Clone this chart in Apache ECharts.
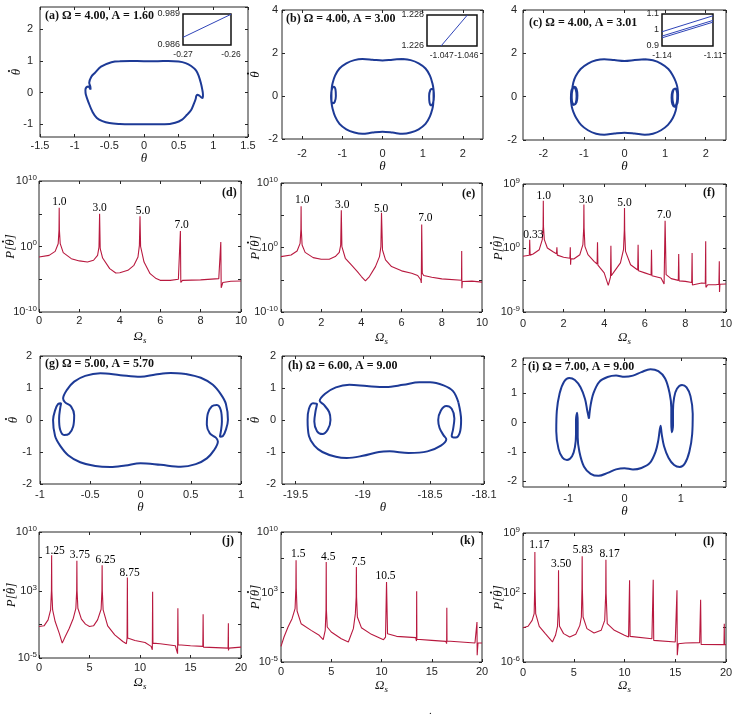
<!DOCTYPE html>
<html style="height: 100%">
<head>
<meta charset="utf-8">
</head>
<body style="height: 100%; margin: 0; background: #fff">
<div id="container" style="width: 737px; height: 717px"></div>
<script type="text/javascript" src="https://cdn.jsdelivr.net/npm/echarts@6.0.0/dist/echarts.min.js"></script>
<script type="text/javascript">
var dom = document.getElementById("container");
var myChart = echarts.init(dom);

// ---- phase portraits [theta, theta_dot] ----
var portraitA = [
  [-0.35,0.99],[-0.2,1.0],[0,0.99],[0.2,0.99],[0.35,1.0],[0.5,0.98],[0.6,0.93],[0.68,0.84],[0.75,0.7],
  [0.79,0.52],[0.82,0.3],[0.84,0.1],[0.85,-0.05],[0.85,-0.12],[0.84,-0.17],[0.8,-0.1],[0.77,-0.07],
  [0.755,-0.1],[0.745,-0.2],[0.72,-0.35],[0.68,-0.55],[0.62,-0.7],[0.55,-0.85],[0.45,-0.95],[0.3,-1.0],
  [0.15,-1.0],[0,-1.0],[-0.2,-1.0],[-0.35,-0.99],[-0.5,-0.96],[-0.6,-0.9],[-0.68,-0.8],[-0.74,-0.62],
  [-0.8,-0.31],[-0.84,-0.05],[-0.845,0.08],[-0.83,0.17],[-0.8,0.19],[-0.78,0.13],[-0.77,0.1],
  [-0.775,0.2],[-0.79,0.31],[-0.76,0.5],[-0.71,0.62],[-0.62,0.82],[-0.47,0.96],[-0.35,0.99]
];
var portraitB = [
  [0.5,1.72],[0.25,1.69],[0,1.65],[-0.25,1.69],[-0.5,1.72],[-0.7,1.67],[-0.9,1.52],[-1.07,1.28],
  [-1.18,0.95],[-1.24,0.6],[-1.26,0.4],[-1.27,0.1],[-1.27,-0.2],[-1.24,-0.34],[-1.19,-0.28],[-1.16,0.0],
  [-1.17,0.3],[-1.21,0.43],[-1.26,0.3],[-1.28,0.0],[-1.27,-0.3],[-1.24,-0.6],[-1.18,-0.95],[-1.07,-1.3],
  [-0.9,-1.55],[-0.7,-1.7],[-0.5,-1.76],[-0.25,-1.7],[0,-1.66],[0.25,-1.7],[0.5,-1.76],[0.7,-1.7],
  [0.9,-1.55],[1.07,-1.3],[1.18,-0.95],[1.24,-0.6],[1.26,-0.4],[1.27,-0.1],[1.27,0.2],[1.24,0.34],
  [1.19,0.28],[1.16,0.0],[1.17,-0.3],[1.21,-0.43],[1.26,-0.3],[1.28,0.0],[1.27,0.3],[1.24,0.6],
  [1.18,0.95],[1.07,1.28],[0.9,1.52],[0.7,1.67],[0.5,1.72]
];
var portraitC = [
  [0.5,1.73],[0.25,1.69],[0,1.65],[-0.25,1.69],[-0.5,1.73],[-0.7,1.68],[-0.9,1.53],[-1.08,1.28],
  [-1.2,0.95],[-1.26,0.65],[-1.29,0.3],[-1.3,-0.05],[-1.28,-0.3],[-1.24,-0.36],[-1.18,-0.25],[-1.16,0.05],
  [-1.18,0.35],[-1.23,0.46],[-1.28,0.33],[-1.3,0.0],[-1.29,-0.3],[-1.25,-0.38],[-1.2,-0.28],[-1.18,0.02],
  [-1.2,0.32],[-1.25,0.44],[-1.31,0.25],[-1.32,-0.1],[-1.3,-0.45],[-1.26,-0.7],[-1.19,-0.98],[-1.07,-1.3],
  [-0.9,-1.55],[-0.7,-1.71],[-0.5,-1.76],[-0.25,-1.7],[0,-1.66],[0.25,-1.7],[0.5,-1.76],[0.7,-1.71],
  [0.9,-1.55],[1.07,-1.3],[1.19,-0.98],[1.26,-0.65],[1.29,-0.3],[1.3,0.05],[1.28,0.3],[1.24,0.36],
  [1.18,0.25],[1.16,-0.05],[1.18,-0.35],[1.23,-0.46],[1.28,-0.33],[1.3,0.0],[1.29,0.3],[1.25,0.38],
  [1.2,0.28],[1.18,-0.02],[1.2,-0.32],[1.25,-0.44],[1.31,-0.25],[1.32,0.1],[1.3,0.45],[1.26,0.7],
  [1.19,0.98],[1.08,1.28],[0.9,1.53],[0.7,1.68],[0.5,1.73]
];
var portraitG = [
  [0.45,1.44],[0.3,1.47],[0.15,1.42],[0,1.35],[-0.2,1.4],[-0.4,1.46],[-0.55,1.38],[-0.66,1.2],
  [-0.73,0.95],[-0.77,0.67],[-0.75,0.55],[-0.69,0.42],[-0.66,0.15],[-0.67,-0.2],[-0.71,-0.43],
  [-0.76,-0.47],[-0.8,-0.3],[-0.81,0.05],[-0.8,0.35],[-0.79,0.52],[-0.82,0.5],[-0.85,0.3],[-0.87,0.0],
  [-0.85,-0.5],[-0.8,-0.8],[-0.72,-1.1],[-0.6,-1.32],[-0.45,-1.44],[-0.3,-1.47],[-0.15,-1.42],[0,-1.35],
  [0.2,-1.4],[0.4,-1.46],[0.55,-1.38],[0.66,-1.2],[0.73,-0.95],[0.77,-0.67],[0.75,-0.55],[0.69,-0.42],
  [0.66,-0.15],[0.67,0.2],[0.71,0.43],[0.76,0.47],[0.8,0.3],[0.81,-0.05],[0.8,-0.35],[0.79,-0.52],
  [0.82,-0.5],[0.85,-0.3],[0.87,0.0],[0.85,0.5],[0.8,0.8],[0.72,1.1],[0.6,1.32],[0.45,1.44]
];
var portraitH = [
  [-18.29,0.55],[-18.33,0.9],[-18.4,1.08],[-18.5,1.18],[-18.58,1.18],[-18.7,1.1],[-18.83,1.03],
  [-18.97,1.06],[-19.1,1.1],[-19.2,1.02],[-19.28,0.82],[-19.32,0.6],[-19.29,0.48],[-19.25,0.25],
  [-19.24,0.0],[-19.26,-0.3],[-19.3,-0.44],[-19.34,-0.35],[-19.36,-0.05],[-19.35,0.3],[-19.34,0.5],
  [-19.37,0.52],[-19.4,0.35],[-19.41,0.0],[-19.4,-0.5],[-19.36,-0.8],[-19.3,-1.0],[-19.2,-1.15],
  [-19.12,-1.19],[-19.0,-1.12],[-18.88,-1.0],[-18.8,-0.98],[-18.66,-1.03],[-18.52,-0.98],[-18.42,-0.8],
  [-18.38,-0.6],[-18.4,-0.48],[-18.43,-0.25],[-18.44,0.0],[-18.42,0.3],[-18.38,0.44],[-18.34,0.35],
  [-18.32,0.05],[-18.33,-0.3],[-18.34,-0.5],[-18.31,-0.55],[-18.28,-0.4],[-18.27,0.0],[-18.29,0.55]
];
var portraitI = [
  [-0.63,0.13],[-0.6,0.6],[-0.55,1.0],[-0.45,1.38],[-0.3,1.55],[-0.15,1.6],[0,1.56],[0.15,1.6],
  [0.3,1.72],[0.46,1.82],[0.6,1.75],[0.72,1.5],[0.8,1.0],[0.83,0.5],[0.83,0.0],[0.84,-0.33],[0.86,-0.1],
  [0.86,0.4],[0.88,0.85],[0.93,1.15],[1.02,1.28],[1.1,1.2],[1.17,0.9],[1.21,0.3],[1.2,-0.4],[1.15,-1.0],
  [1.07,-1.4],[0.98,-1.52],[0.88,-1.45],[0.78,-1.2],[0.7,-0.8],[0.66,-0.4],[0.64,-0.11],[0.6,-0.6],
  [0.55,-1.0],[0.45,-1.38],[0.3,-1.55],[0.15,-1.6],[0,-1.56],[-0.15,-1.6],[-0.3,-1.72],[-0.46,-1.82],
  [-0.6,-1.75],[-0.72,-1.5],[-0.8,-1.0],[-0.83,-0.5],[-0.83,0.0],[-0.84,0.33],[-0.86,0.1],[-0.86,-0.4],
  [-0.88,-0.85],[-0.93,-1.15],[-1.02,-1.28],[-1.1,-1.2],[-1.17,-0.9],[-1.21,-0.3],[-1.2,0.4],[-1.15,1.0],
  [-1.07,1.4],[-0.98,1.52],[-0.88,1.45],[-0.78,1.2],[-0.7,0.8],[-0.66,0.4],[-0.63,0.13]
];

// ---- inset zooms ----
var insetA = [[-0.27,0.98674],[-0.26,0.98897]];
var insetB = [[-1.04703,1.226],[-1.04596,1.228]];
var insetC1 = [[-1.14,0.989],[-1.11,1.089]];
var insetC2 = [[-1.14,0.962],[-1.11,1.06]];
var insetC3 = [[-1.14,0.951],[-1.11,1.049]];

// ---- power spectra [Omega_s, log10 P] ----
var specD = [
  [0,-1.6],[0.5,-1.35],[0.8,-0.74],[0.95,0.43],[0.99,2.5],[1.0,5.93],[1.01,2.5],[1.05,0.43],[1.2,-0.94],
  [1.6,-1.86],[2.0,-2.2],[2.4,-2.37],[2.7,-2.1],[2.9,-1.35],[2.97,-0.08],[3.0,5.0],[3.03,-0.33],
  [3.15,-1.76],[3.5,-3.38],[3.8,-4.05],[4.0,-4.0],[4.4,-3.64],[4.7,-2.87],[4.9,-1.6],[4.97,0.18],
  [5.0,4.6],[5.03,0.0],[5.2,-2.37],[5.5,-4.15],[5.8,-4.9],[6.0,-5.17],[6.5,-5.17],[6.9,-5.0],
  [6.98,-4.75],[7.0,2.37],[7.02,-5.5],[7.1,-5.17],[8.0,-5.1],[8.9,-4.9],[8.98,-4.66],[9.0,0.69],
  [9.02,-6.3],[9.1,-5.5],[9.5,-5.3],[10,-5.27]
];
var specE = [
  [0,-1.41],[0.5,-1.16],[0.8,-0.54],[0.95,0.64],[0.99,2.8],[1.0,6.4],[1.01,2.8],[1.05,0.39],[1.2,-0.75],
  [1.6,-1.57],[2.0,-1.83],[2.4,-1.83],[2.7,-1.41],[2.9,-0.75],[2.97,0.39],[3.0,5.78],[3.03,0.13],
  [3.2,-1.67],[3.5,-2.7],[3.8,-3.73],[4.0,-4.5],[4.2,-5.17],[4.4,-4.5],[4.7,-2.96],[4.9,-1.41],
  [4.97,0.13],[5.0,5.37],[5.05,-0.39],[5.2,-1.93],[5.5,-2.96],[6.0,-3.62],[6.5,-3.98],[6.8,-4.34],
  [6.95,-5.0],[6.98,-5.5],[7.0,3.57],[7.03,-3.98],[7.1,-4.34],[7.5,-4.6],[8.0,-4.86],[8.98,-5.07],
  [8.99,-0.54],[9.0,-6.3],[9.02,-5.27],[9.5,-5.22],[10,-5.37]
];
var specF = [
  [0,-1.17],[0.31,-1.03],[0.33,1.17],[0.35,-1.0],[0.5,-0.84],[0.8,-0.24],[0.95,1.17],[0.99,3.0],
  [1.0,6.66],[1.01,3.0],[1.05,1.17],[1.2,0.0],[1.5,-0.56],[1.65,-0.8],[1.67,0.09],[1.69,-1.0],[2.0,-1.31],
  [2.31,-1.45],[2.33,0.09],[2.345,-2.35],[2.36,-1.5],[2.5,-1.55],[2.8,-0.94],[2.95,0.47],[2.99,2.8],
  [3.0,6.1],[3.01,2.8],[3.05,0.23],[3.2,-0.94],[3.5,-1.88],[3.65,-2.25],[3.67,0.8],[3.69,-2.4],
  [3.8,-2.8],[4.0,-3.5],[4.2,-5.25],[4.31,-4.1],[4.33,0.33],[4.35,-3.9],[4.5,-3.28],[4.8,-2.1],
  [4.95,-0.24],[4.99,2.5],[5.0,5.62],[5.01,2.5],[5.05,-0.47],[5.3,-2.35],[5.65,-3.1],[5.67,0.47],
  [5.69,-3.2],[6.0,-3.5],[6.31,-3.8],[6.33,-0.24],[6.35,-3.9],[6.8,-4.22],[6.95,-5.06],[7.0,3.84],
  [7.05,-3.75],[7.3,-4.31],[7.65,-4.55],[7.67,-0.85],[7.69,-4.62],[8.0,-4.69],[8.31,-4.85],[8.33,-0.7],
  [8.345,-5.2],[8.36,-4.95],[8.8,-4.92],[8.98,-4.95],[9.0,0.94],[9.01,-5.53],[9.1,-5.16],[9.5,-5.16],
  [9.65,-5.1],[9.67,-1.88],[9.68,-6.19],[9.7,-5.1],[10,-5.06]
];
var specJ = [
  [0,-1.25],[0.5,-1.17],[0.9,-0.46],[1.15,0.72],[1.23,3.0],[1.25,7.24],[1.27,3.0],[1.35,0.72],
  [1.6,-0.66],[2.0,-2.04],[2.3,-3.23],[2.6,-2.43],[3.0,-1.45],[3.4,-0.26],[3.65,0.92],[3.73,3.0],
  [3.75,6.57],[3.77,3.0],[3.85,0.92],[4.2,-0.38],[4.6,-0.97],[5.0,-1.25],[5.4,-1.17],[5.8,-0.46],
  [6.15,0.8],[6.23,3.0],[6.25,6.05],[6.27,3.0],[6.35,0.72],[6.8,-1.17],[7.5,-2.24],[8.3,-3.03],
  [8.65,-3.3],[8.72,-2.63],[8.75,4.59],[8.78,-2.63],[9.5,-2.91],[10.5,-3.15],[11.1,-3.62],[11.22,-4.02],
  [11.25,2.89],[11.28,-3.23],[12,-3.3],[13.5,-3.54],[13.72,-4.49],[13.75,0.92],[13.78,-3.42],[15,-3.54],
  [16.22,-3.62],[16.25,0.21],[16.28,-3.7],[18.72,-3.82],[18.75,-0.86],[18.76,-4.1],[18.8,-3.82],[20,-3.7]
];
var specK = [
  [0,-3.19],[0.3,-2.12],[0.7,-0.96],[1.1,0.0],[1.4,1.15],[1.48,3.5],[1.5,6.73],[1.52,3.5],[1.6,0.88],
  [2.0,-0.58],[3.0,-1.35],[3.8,-1.92],[4.2,-2.42],[4.4,-1.35],[4.48,1.0],[4.5,6.54],[4.52,1.0],
  [4.6,-0.96],[5.0,-1.54],[6.0,-2.31],[6.7,-2.69],[7.2,-1.15],[7.4,0.58],[7.48,2.5],[7.5,5.96],
  [7.52,2.5],[7.6,0.19],[8.0,-1.04],[9.0,-1.81],[10.2,-2.42],[10.4,-2.12],[10.5,4.23],[10.6,-1.73],
  [11.5,-2.04],[13.4,-2.19],[13.48,-2.58],[13.5,3.15],[13.52,-2.38],[13.6,-2.38],[15,-2.5],[16.4,-2.62],
  [16.48,-2.88],[16.5,1.27],[16.52,-2.58],[19.3,-2.81],[19.48,-2.81],[19.5,-0.38],[19.52,-4.23],
  [19.6,-2.81],[20,-2.81]
];
var specL = [
  [0,-2.01],[0.5,-1.85],[0.9,-1.16],[1.1,-0.38],[1.15,2.5],[1.17,6.79],[1.19,2.5],[1.25,-0.38],
  [1.6,-1.85],[2.2,-2.7],[2.9,-3.67],[3.2,-2.9],[3.4,-1.85],[3.48,0.5],[3.5,4.66],[3.52,0.5],[3.6,-1.85],
  [4.0,-2.7],[4.6,-3.09],[5.2,-2.78],[5.6,-1.74],[5.75,-0.77],[5.81,2.5],[5.83,6.29],[5.85,2.5],
  [5.92,-0.77],[6.3,-2.12],[7.0,-2.63],[7.7,-2.32],[8.05,-1.16],[8.15,2.0],[8.17,5.9],[8.19,2.0],
  [8.3,-1.54],[9.0,-2.32],[10.0,-2.9],[10.4,-3.09],[10.5,3.5],[10.55,-3.02],[12.7,-3.29],[12.83,3.57],
  [12.88,-3.48],[15.0,-3.67],[15.15,-3.7],[15.17,2.33],[15.2,-5.22],[15.3,-3.87],[16,-3.79],[17.4,-3.75],
  [17.5,1.25],[17.55,-3.95],[19.8,-3.98],[19.83,-1.54],[19.85,-3.98],[20,-3.98]
];

// ---- peak annotations [Omega_s, log10 P, text] ----
var peaksD = [[1.01,6.79,'1.0'],[3.0,5.88,'3.0'],[5.15,5.42,'5.0'],[7.06,3.23,'7.0']];
var peaksE = [[1.06,7.33,'1.0'],[3.05,6.66,'3.0'],[4.98,6.04,'5.0'],[7.18,4.5,'7.0']];
var peaksF = [[0.51,1.87,'0.33'],[1.02,7.27,'1.0'],[3.11,6.8,'3.0'],[5.0,6.28,'5.0'],[6.95,4.59,'7.0']];
var peaksJ = [[1.56,7.75,'1.25'],[4.05,7.24,'3.75'],[6.58,6.64,'6.25'],[8.97,5.14,'8.75']];
var peaksK = [[1.72,7.42,'1.5'],[4.7,7.12,'4.5'],[7.72,6.54,'7.5'],[10.4,4.88,'10.5']];
var peaksL = [[1.61,7.57,'1.17'],[3.76,5.36,'3.50'],[5.9,7.06,'5.83'],[8.53,6.6,'8.17']];

var BLUE = '#1d3a96', RED = '#b8193f', INK = '#262626';
var SANS = 'Liberation Sans, Arial, sans-serif';
var SERIF = 'Liberation Serif, Times New Roman, serif';

// axis names; the dot over theta is an extra rich-text line above the glyph
var phaseX = 'θ';
var phaseY = '{d|.}\n{t|θ}';
var specX = 'Ω{s|s}';
var specY = '{dp|.}\n{t|P[θ]}';

// rect = [left, top, width, height]; xm/ym label margins; xg/yg name gaps
var panels = [
  {rect: [40, 7, 208, 130], x: {min: -1.5, max: 1.5, interval: 0.5}, y: {min: -1.4, max: 2.7, hideMin: true, hideMax: true},
   xName: phaseX, yName: phaseY, xm: 3, ym: 7, xg: 10, yg: 17, title: ['(a) Ω = 4.00, A = 1.60', 45, 10],
   lines: [portraitA], color: BLUE, width: 2},
  {rect: [282, 10, 201, 129], x: {min: -2.5, max: 2.5, hideMin: true, hideMax: true}, y: {min: -2, max: 4, interval: 2},
   xName: phaseX, yName: phaseY, xm: 9, ym: 4, xg: 17, yg: 20, title: ['(b) Ω = 4.00, A = 3.00', 286, 13],
   lines: [portraitB], color: BLUE, width: 2},
  {rect: [523, 10, 203, 130], x: {min: -2.5, max: 2.5, hideMin: true, hideMax: true}, y: {min: -2, max: 4, interval: 2},
   xName: phaseX, yName: '', xm: 8.5, ym: 6, xg: 17, yg: 20, title: ['(c) Ω = 4.00, A = 3.01', 529, 17],
   lines: [portraitC], color: BLUE, width: 2},
  {rect: [39, 181, 202, 131], x: {min: 0, max: 10, interval: 2}, y: {min: -10, max: 10, interval: 5, labels: [-10, 0, 10]},
   xName: specX, yName: specY, xm: 3.5, ym: 2, xg: 17, yg: 22, title: ['(d)', 222, 187],
   lines: [specD], color: RED, width: 1.1, peaks: peaksD},
  {rect: [281, 183, 201, 129], x: {min: 0, max: 10, interval: 2}, y: {min: -10, max: 10, interval: 5, labels: [-10, 0, 10]},
   xName: specX, yName: specY, xm: 5.5, ym: 3, xg: 18, yg: 19, title: ['(e)', 462, 188],
   lines: [specE], color: RED, width: 1.1, peaks: peaksE},
  {rect: [523, 184, 203, 128], x: {min: 0, max: 10, interval: 2}, y: {min: -9, max: 9, interval: 4.5, labels: [-9, 0, 9]},
   xName: specX, yName: specY, xm: 6.5, ym: 3, xg: 18, yg: 18, title: ['(f)', 703, 187],
   lines: [specF], color: RED, width: 1.1, peaks: peaksF},
  {rect: [40, 356, 201, 128], x: {min: -1, max: 1, interval: 0.5}, y: {min: -2, max: 2, interval: 1},
   xName: phaseX, yName: phaseY, xm: 5.5, ym: 8, xg: 17, yg: 20, title: ['(g) Ω = 5.00, A = 5.70', 45, 358],
   lines: [portraitG], color: BLUE, width: 2},
  {rect: [282, 356, 202, 128], x: {min: -19.6, max: -18.1, split: 3, hideMin: true}, y: {min: -2, max: 2, interval: 1},
   xName: phaseX, yName: phaseY, xm: 5.5, ym: 6, xg: 17, yg: 20, title: ['(h) Ω = 6.00, A = 9.00', 288, 360],
   lines: [portraitH], color: BLUE, width: 2},
  {rect: [523, 358, 203, 129], x: {min: -1.8, max: 1.8, hideMin: true, hideMax: true}, y: {min: -2.2, max: 2.2, hideMin: true, hideMax: true},
   xName: phaseX, yName: '', xm: 6.5, ym: 6, xg: 16, yg: 20, title: ['(i) Ω = 7.00, A = 9.00', 528, 361],
   lines: [portraitI], color: BLUE, width: 2},
  {rect: [39, 532, 202, 126], x: {min: 0, max: 20, interval: 5}, y: {min: -5, max: 10, interval: 4, labels: [-5, 3, 10]},
   xName: specX, yName: specY, xm: 4.5, ym: 2, xg: 17, yg: 21, title: ['(j)', 222, 535],
   lines: [specJ], color: RED, width: 1.1, peaks: peaksJ},
  {rect: [281, 532, 201, 130], x: {min: 0, max: 20, interval: 5}, y: {min: -5, max: 10, interval: 4, labels: [-5, 3, 10]},
   xName: specX, yName: specY, xm: 4.5, ym: 3, xg: 16, yg: 19, title: ['(k)', 460, 535],
   lines: [specK], color: RED, width: 1.1, peaks: peaksK},
  {rect: [523, 533, 203, 129], x: {min: 0, max: 20, interval: 5}, y: {min: -6, max: 9, interval: 4, labels: [-6, 2, 9]},
   xName: specX, yName: specY, xm: 5.5, ym: 3, xg: 16, yg: 18, title: ['(l)', 703, 536],
   lines: [specL], color: RED, width: 1.1, peaks: peaksL}
];

var insets = [
  {rect: [183, 14, 48, 31], x: {min: -0.27, max: -0.26, interval: 0.01}, y: {min: 0.986, max: 0.989, interval: 0.003}, lines: [insetA]},
  {rect: [427, 15, 50, 31], x: {min: -1.0476, max: -1.04557, split: 2, hideMin: true, hideMax: true}, y: {min: 1.226, max: 1.228, interval: 0.002}, lines: [insetB]},
  {rect: [662, 14, 51, 32], x: {min: -1.14, max: -1.11, interval: 0.03}, y: {min: 0.9, max: 1.1, interval: 0.1}, lines: [insetC1, insetC2, insetC3]}
];

var grid = [], xAxis = [], yAxis = [], series = [], title = [];

function makeAxis(gi, a, pos, labelled, st) {
  var o = {
    type: 'value', gridIndex: gi, position: pos, min: a.min, max: a.max,
    axisLine: {show: false, onZero: false}, splitLine: {show: false},
    axisTick: {show: st.ticks, inside: true, length: 3, lineStyle: {color: INK, width: 1}},
    axisLabel: {show: labelled, color: INK, fontFamily: SANS, fontSize: st.fs, margin: st.margin,
      showMinLabel: !a.hideMin, showMaxLabel: !a.hideMax}
  };
  if (a.interval != null) o.interval = a.interval;
  if (a.split != null) o.splitNumber = a.split;
  if (a.labels) {
    o.axisLabel.formatter = function (v) {
      return a.labels.indexOf(v) >= 0 ? '10{e|' + v + '}' : '';
    };
    o.axisLabel.rich = {e: {fontSize: 8, fontFamily: SANS, color: INK, padding: [0, 0, 7, 0]}};
  }
  return o;
}

var nameStyle = {fontFamily: SERIF, fontStyle: 'italic', fontSize: 13, color: '#111', align: 'center',
  rich: {
    s: {fontFamily: SERIF, fontStyle: 'italic', fontSize: 9, color: '#111', padding: [7, 0, 0, 0]},
    t: {fontFamily: SERIF, fontStyle: 'italic', fontSize: 13, color: '#111', lineHeight: 12, align: 'center'},
    d: {fontFamily: SERIF, fontSize: 13, fontWeight: 'bold', color: '#111', lineHeight: 8, align: 'center', padding: [0, 0, 0, 3]},
    dp: {fontFamily: SERIF, fontSize: 13, fontWeight: 'bold', color: '#111', lineHeight: 8, align: 'center', padding: [0, 0, 0, 11]}
  }};

panels.forEach(function (p, i) {
  grid.push({left: p.rect[0], top: p.rect[1], width: p.rect[2], height: p.rect[3],
    show: true, borderColor: INK, borderWidth: 1, containLabel: false, outerBoundsMode: 'none'});
  var xb = makeAxis(i, p.x, 'bottom', true, {ticks: true, fs: 11, margin: p.xm});
  xb.name = p.xName; xb.nameLocation = 'middle'; xb.nameGap = p.xg; xb.nameTextStyle = nameStyle;
  var xt = makeAxis(i, p.x, 'top', false, {ticks: true, fs: 11, margin: 0});
  var yl = makeAxis(i, p.y, 'left', true, {ticks: true, fs: 11, margin: p.ym});
  yl.name = p.yName; yl.nameLocation = 'middle'; yl.nameGap = p.yg; yl.nameRotate = 90; yl.nameTextStyle = nameStyle;
  yl.nameMoveOverlap = false;
  var yr = makeAxis(i, p.y, 'right', false, {ticks: true, fs: 11, margin: 0});
  var xi = xAxis.length, yi = yAxis.length;
  xAxis.push(xb, xt);
  yAxis.push(yl, yr);
  p.lines.forEach(function (d) {
    series.push({type: 'line', xAxisIndex: xi, yAxisIndex: yi, data: d, showSymbol: false, symbol: 'none',
      smooth: p.color === BLUE ? 0.35 : false, lineStyle: {color: p.color, width: p.width},
      silent: true, animation: false, clip: true, z: 2});
  });
  if (p.peaks) {
    series.push({type: 'scatter', xAxisIndex: xi, yAxisIndex: yi, symbolSize: 1,
      itemStyle: {color: 'transparent'}, silent: true, animation: false, clip: false, z: 5,
      data: p.peaks.map(function (q) { return {value: [q[0], q[1]], name: q[2]}; }),
      label: {show: true, position: 'inside', formatter: '{b}', color: '#000', opacity: 1,
        textBorderWidth: 0, fontFamily: SERIF, fontSize: 11.5}});
  }
  title.push({text: p.title[0], left: p.title[1], top: p.title[2], padding: 0,
    textStyle: {fontFamily: SERIF, fontWeight: 'bold', fontSize: 12, color: '#111'}});
});

insets.forEach(function (p) {
  var gi = grid.length;
  grid.push({left: p.rect[0], top: p.rect[1], width: p.rect[2], height: p.rect[3], z: 4,
    show: true, borderColor: '#111', borderWidth: 1.5, backgroundColor: '#fff', containLabel: false, outerBoundsMode: 'none'});
  var xi = xAxis.length, yi = yAxis.length;
  xAxis.push(makeAxis(gi, p.x, 'bottom', true, {ticks: false, fs: 8.5, margin: 5}));
  yAxis.push(makeAxis(gi, p.y, 'left', true, {ticks: false, fs: 9, margin: 3}));
  p.lines.forEach(function (d) {
    series.push({type: 'line', xAxisIndex: xi, yAxisIndex: yi, data: d, showSymbol: false, symbol: 'none',
      lineStyle: {color: '#2f44b8', width: 1}, silent: true, animation: false, clip: true, z: 6});
  });
});

option = {
  backgroundColor: '#fff',
  animation: false,
  title: title,
  grid: grid,
  xAxis: xAxis,
  yAxis: yAxis,
  series: series,
  graphic: [{type: 'text', left: 429, top: 706, style: {text: '.', fill: '#111', font: '11px ' + SERIF}}]
};

if (option && typeof option === "object") {
  myChart.setOption(option, true);
}
</script>
</body>
</html>
